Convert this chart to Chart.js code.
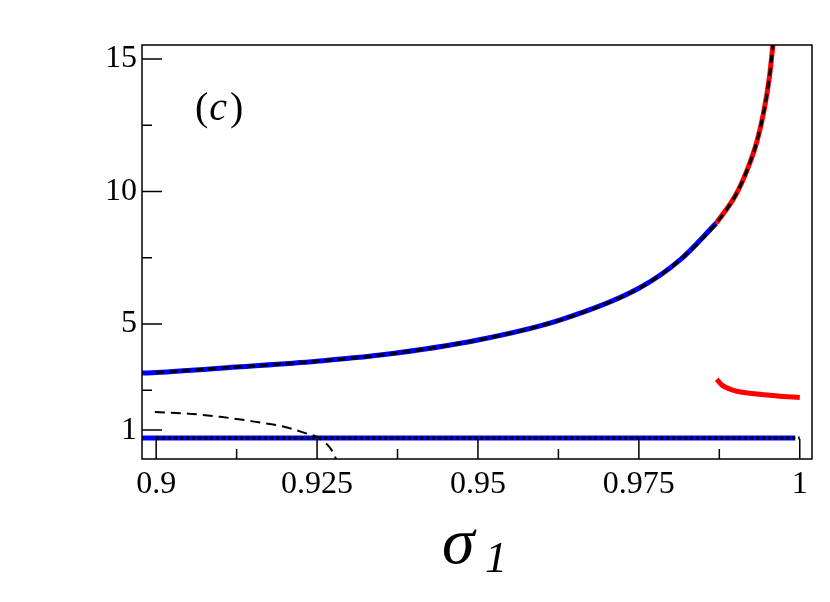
<!DOCTYPE html>
<html>
<head>
<meta charset="utf-8">
<script src="https://cdn.jsdelivr.net/npm/chart.js@4.4.1/dist/chart.umd.min.js"></script>
<style>
  html, body { margin: 0; padding: 0; background: #fff; }
  canvas { display: block; }
</style>
</head>
<body>
<canvas id="chartSigma" width="830" height="602"></canvas>
<script>
// ==================== Dados ====================
// ramo superior (azul ate a troca, depois vermelho)
const upperX = [0.8978, 0.9, 0.9125, 0.925, 0.9348, 0.95, 0.9627, 0.975, 0.9814, 0.987, 0.9900, 0.9918, 0.9933, 0.9944, 0.9953, 0.9959];
const upperY = [3.15, 3.17, 3.38, 3.60, 3.83, 4.40, 5.15, 6.35, 7.42, 8.80, 9.85, 10.80, 11.85, 13.0, 14.35, 15.7];
const upperSwitch = 9; // indice onde azul vira vermelho

// ramo vermelho de baixo
const redLowX = [0.9871, 0.9879, 0.9896, 0.9933, 0.9965, 1.0];
const redLowY = [2.92, 2.70, 2.51, 2.36, 2.29, 2.23];

// linha azul constante e pontilhado preto
const blueFlatX = [0.8978, 0.9993];
const blueFlatY = [0.70, 0.70];
const dotFlatX = [0.9, 1.0];
const dotFlatY = [0.70, 0.70];

// tracejado preto que cai
const dashLowX = [0.8998, 0.905, 0.91, 0.915, 0.92, 0.9235, 0.925, 0.9266, 0.9275, 0.9280];
const dashLowY = [1.68, 1.62, 1.50, 1.33, 1.12, 0.86, 0.74, 0.45, 0.15, -0.12];

// ticks
const xTicks = [0.9, 0.925, 0.95, 0.975, 1];
const xTickLabels = ['0.9', '0.925', '0.95', '0.975', '1'];
const xMinor = [0.9125, 0.9375, 0.9625, 0.9875];
const yTicks = [1, 5, 10, 15];
const yTickLabels = ['1', '5', '10', '15'];
const yMinor = [2.5, 7.5, 12.5];

const SERIF = '"Liberation Serif", "DejaVu Serif", serif';

function pts(xs, ys) {
  return xs.map((x, i) => ({ x: x, y: ys[i] }));
}

// ==================== Plugins ====================
const framePlugin = {
  id: 'frame',
  afterDraw(chart) {
    const ctx = chart.ctx;
    const a = chart.chartArea;
    const xs = chart.scales.x, ys = chart.scales.y;
    ctx.save();
    ctx.strokeStyle = '#000';
    ctx.lineWidth = 1.5;
    ctx.strokeRect(a.left, a.top, a.right - a.left, a.bottom - a.top);

    // ticks para dentro
    ctx.beginPath();
    xTicks.forEach(v => { const p = xs.getPixelForValue(v); ctx.moveTo(p, a.bottom); ctx.lineTo(p, a.bottom - 20); });
    xMinor.forEach(v => { const p = xs.getPixelForValue(v); ctx.moveTo(p, a.bottom); ctx.lineTo(p, a.bottom - 10); });
    yTicks.forEach(v => { const p = ys.getPixelForValue(v); ctx.moveTo(a.left, p); ctx.lineTo(a.left + 20, p); });
    yMinor.forEach(v => { const p = ys.getPixelForValue(v); ctx.moveTo(a.left, p); ctx.lineTo(a.left + 10, p); });
    ctx.stroke();

    // titulo do eixo x: sigma_1
    ctx.fillStyle = '#000';
    ctx.textBaseline = 'alphabetic';
    ctx.textAlign = 'left';
    ctx.font = 'italic 66px ' + SERIF;
    ctx.fillText('σ', 442, 563);
    ctx.font = 'italic 44px ' + SERIF;
    ctx.fillText('1', 485, 572);

    // rotulo (c)
    let x = 195;
    const by = 120;
    ctx.font = '40px ' + SERIF;
    ctx.fillText('(', x, by);
    x += ctx.measureText('(').width + 1;
    ctx.font = 'italic 40px ' + SERIF;
    ctx.fillText('c', x, by);
    x += ctx.measureText('c').width + 3;
    ctx.font = '40px ' + SERIF;
    ctx.fillText(')', x, by);
    ctx.restore();
  }
};

// ==================== Chart ====================
const ctx = document.getElementById('chartSigma').getContext('2d');
const chart = new Chart(ctx, {
  type: 'line',
  data: {
    datasets: [
      { data: pts(upperX.slice(1), upperY.slice(1)), borderColor: '#000', borderWidth: 3, borderDash: [8, 5] },
      { data: pts(dashLowX, dashLowY), borderColor: '#000', borderWidth: 2, borderDash: [10, 6] },
      { data: pts(dotFlatX, dotFlatY), borderColor: '#000', borderWidth: 3, borderDash: [3, 3] },
      { data: pts(upperX.slice(0, upperSwitch + 1), upperY.slice(0, upperSwitch + 1)), borderColor: '#0000ff', borderWidth: 5 },
      { data: pts(upperX.slice(upperSwitch), upperY.slice(upperSwitch)), borderColor: '#ff0000', borderWidth: 5 },
      { data: pts(redLowX, redLowY), borderColor: '#ff0000', borderWidth: 5 },
      { data: pts(blueFlatX, blueFlatY), borderColor: '#0000ff', borderWidth: 5 }
    ]
  },
  options: {
    responsive: false,
    animation: false,
    devicePixelRatio: 1,
    layout: { padding: { top: 45, right: 18, left: 0, bottom: 0 } },
    elements: {
      point: { radius: 0 },
      line: { cubicInterpolationMode: 'monotone', fill: false, borderCapStyle: 'butt' }
    },
    datasets: { line: { clip: 0 } },
    plugins: { legend: { display: false }, tooltip: { enabled: false } },
    scales: {
      x: {
        type: 'linear',
        min: 0.8978,
        max: 1.0019,
        grid: { display: false, drawTicks: false },
        border: { display: false },
        afterBuildTicks: s => { s.ticks = xTicks.map(v => ({ value: v })); },
        afterFit: s => { s.height = 143; },
        ticks: {
          padding: 6,
          color: '#000',
          font: { family: SERIF, size: 32 },
          callback: (v, i) => xTickLabels[i]
        }
      },
      y: {
        type: 'linear',
        min: -0.09,
        max: 15.53,
        grid: { display: false, drawTicks: false },
        border: { display: false },
        afterBuildTicks: s => { s.ticks = yTicks.map(v => ({ value: v })); },
        afterFit: s => { s.width = 142; },
        ticks: {
          padding: 5,
          color: '#000',
          font: { family: SERIF, size: 32 },
          callback: (v, i) => yTickLabels[i]
        }
      }
    }
  },
  plugins: [framePlugin]
});
</script>
</body>
</html>
